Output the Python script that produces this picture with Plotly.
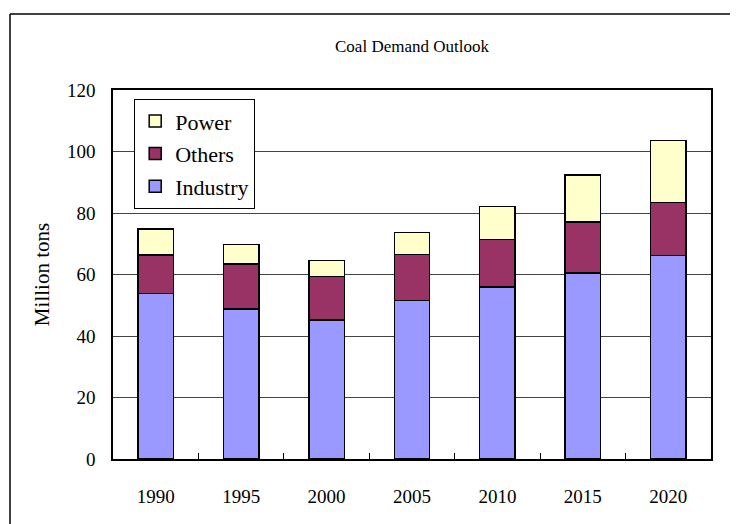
import plotly.graph_objects as go

years = ["1990", "1995", "2000", "2005", "2010", "2015", "2020"]
industry = [53.8, 48.8, 45.2, 51.6, 55.9, 60.5, 66.2]
others = [12.5, 14.6, 14.2, 14.9, 15.5, 16.5, 17.2]
power = [8.5, 6.4, 5.2, 7.2, 10.7, 15.4, 20.1]
y_ticks = [0, 20, 40, 60, 80, 100, 120]

FONT = "Liberation Serif, Times New Roman, serif"
OFF = 8  # browser body margin
W, H = 738 - OFF, 524 - OFF
L, T = 113 - OFF, 90 - OFF
R, B = 738 - 711, 524 - 459
pw, ph = W - L - R, H - T - B

fig = go.Figure()
for name, vals, col, rank in [("Industry", industry, "#9999FF", 3),
                              ("Others", others, "#993366", 2),
                              ("Power", power, "#FFFFCC", 1)]:
    fig.add_trace(go.Bar(x=years, y=vals, name=name, legendgroup=name, legendrank=rank,
                         marker=dict(color=col, line=dict(color="black", width=1.5))))

bx = (10 - OFF - L) / pw
by = (H - B - (14 - OFF)) / ph
fig.update_layout(
    width=W, height=H,
    margin=dict(l=L, r=R, t=T, b=B),
    barmode="stack", bargap=0.585,
    paper_bgcolor="white", plot_bgcolor="white",
    font=dict(family=FONT, size=19, color="black"),
    title=dict(text="Coal Demand Outlook", x=(L + pw / 2) / W, xanchor="center",
               y=1 - (46 - OFF) / H, yanchor="middle", font=dict(family=FONT, size=17)),
    legend=dict(x=(134 - 113) / pw, y=(459 - 99) / ph, xanchor="left", yanchor="top",
                bordercolor="black", borderwidth=1.2, bgcolor="white",
                traceorder="grouped", tracegroupgap=1,
                font=dict(family=FONT, size=22)),
    xaxis=dict(showline=True, linecolor="black", linewidth=1.5, mirror=True,
               ticks="inside", tickson="boundaries", ticklen=6, tickcolor="black",
               ticklabelstandoff=19, showgrid=False, tickfont=dict(size=19)),
    yaxis=dict(range=[0, 120], tickvals=y_ticks, showline=True, linecolor="black",
               linewidth=1.5, mirror=True, ticks="", showgrid=True,
               gridcolor="#444444", gridwidth=1, ticklabelstandoff=12,
               tickfont=dict(size=19),
               title=dict(text="Million tons", standoff=12, font=dict(family=FONT, size=21))),
    shapes=[
        dict(type="line", xref="paper", yref="paper", x0=bx, x1=bx, y0=-0.3, y1=by,
             line=dict(color="black", width=1.5)),
        dict(type="line", xref="paper", yref="paper", x0=bx, x1=1.3, y0=by, y1=by,
             line=dict(color="black", width=1.5)),
    ],
)
fig.write_html("out.html")
